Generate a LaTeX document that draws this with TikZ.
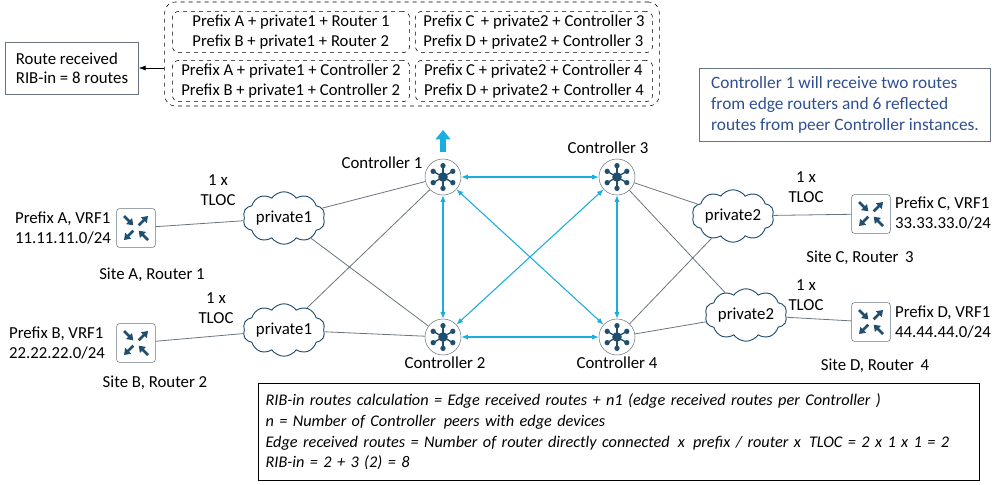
\documentclass[tikz,border=0pt]{standalone}
\usepackage{fontspec}
\setmainfont{Carlito}
\usetikzlibrary{shapes.symbols,arrows.meta,calc}
\definecolor{dk}{HTML}{1F4E6E}
\definecolor{lb}{HTML}{1AADE0}
\definecolor{gl}{HTML}{6A7480}
\definecolor{tb}{HTML}{2F4F8F}
\tikzset{
  x=0.75pt,y=-0.75pt,
  every node/.style={font=\fontsize{12.6}{14.5}\selectfont,align=center,inner sep=1pt},
  ctl/.style={circle,draw=gl,fill=white,minimum size=27pt,inner sep=0pt},
  rtr/.style={rectangle,rounded corners=2pt,draw=gl,fill=white,minimum size=29pt,inner sep=0pt},
  cld/.style={cloud,cloud puffs=10,cloud puff arc=110,aspect=1.9,draw=dk,fill=white,line width=0.7pt,inner sep=0pt,minimum width=60pt,minimum height=31pt},
  lnk/.style={draw=gl,line width=0.6pt},
  blu/.style={draw=lb,line width=0.8pt,{Latex[length=5pt,width=4pt]}-{Latex[length=5pt,width=4pt]}},
  ibox/.style={draw,dashed,rounded corners=5pt,minimum width=178pt,minimum height=31pt,align=left,font=\fontsize{12.5}{14.5}\selectfont}
}
\newcommand{\hubicon}[1]{%
  \foreach \a in {30,90,150,210,270,330}{\draw[dk,line width=1pt] (#1.center) -- ($(#1.center)+(\a:8.5pt)$); \fill[dk] ($(#1.center)+(\a:8.5pt)$) circle (2pt);}
  \fill[dk] (#1.center) circle (3.6pt);}
\newcommand{\rtricon}[1]{%
  \draw[dk,line width=2pt,-{Triangle[length=4.5pt,width=6pt]}] ($(#1.center)+(-9pt,9pt)$) -- ($(#1.center)+(-2pt,2pt)$);
  \draw[dk,line width=2pt,-{Triangle[length=4.5pt,width=6pt]}] ($(#1.center)+(9pt,-9pt)$) -- ($(#1.center)+(2pt,-2pt)$);
  \draw[dk,line width=2pt,-{Triangle[length=4.5pt,width=6pt]}] ($(#1.center)+(2pt,2pt)$) -- ($(#1.center)+(9pt,9pt)$);
  \draw[dk,line width=2pt,-{Triangle[length=4.5pt,width=6pt]}] ($(#1.center)+(-2pt,-2pt)$) -- ($(#1.center)+(-9pt,-9pt)$);}
\begin{document}
\begin{tikzpicture}
\useasboundingbox (0,0) rectangle (1008,485);
% top box
\node[draw=black,dashed,rounded corners=8pt,minimum width=371pt,minimum height=78pt,inner sep=0pt] (top) at (412,54) {};
\node[ibox] (b1) at (291,32) {Prefix A + private1 + Router 1\\Prefix B + private1 + Router 2};
\node[ibox] (b2) at (534,32) {Prefix C \,+ private2 + Controller 3\\Prefix D + private2 + Controller 3};
\node[ibox] (b3) at (291,81) {Prefix A + private1 + Controller 2\\Prefix B + private1 + Controller 2};
\node[ibox] (b4) at (534,81) {Prefix C + private2 + Controller 4\\Prefix D + private2 + Controller 4};
\node[draw=gl,minimum width=100pt,minimum height=39pt,align=left] (rr) at (72,68) {Route received\\RIB-in = 8 routes};
\draw[-{Latex[length=5pt]}] (top.west|-rr) -- (rr.east);
\node[draw=gl,text=tb,align=left,minimum width=218pt,minimum height=55pt,inner sep=5pt,font=\fontsize{13}{16}\selectfont] (note) at (845,105) {Controller 1 will receive two routes\\from edge routers and 6 reflected\\routes from peer Controller instances.};
% controllers
\node[ctl] (c1) at (443,177) {};
\node[ctl] (c2) at (443,337) {};
\node[ctl] (c3) at (617,177) {};
\node[ctl] (c4) at (617,337) {};
\coordinate (up) at (443,130);
\draw[lb,line width=4pt,-{Triangle[length=7pt,width=11pt]}] (443,152) -- (up);
\node (l1) at (382,163) {Controller 1};
\node (l2) at (445,363) {Controller 2};
\node (l3) at (608,148) {Controller 3};
\node (l4) at (617,363) {Controller 4};
% clouds
\node[cld] (p1) at (284,218) {private1};
\node[cld] (p2) at (284,330) {private1};
\node[cld] (p3) at (733,216) {private2};
\node[cld] (p4) at (746,315) {private2};
% routers
\node[rtr] (ra) at (136,228) {};
\node[rtr] (rb) at (136,343) {};
\node[rtr] (rc) at (871,214) {};
\node[rtr] (rd) at (871,322) {};
% links
\draw[lnk] (ra) -- (p1); \draw[lnk] (rb) -- (p2);
\draw[lnk] (rc) -- (p3); \draw[lnk] (rd) -- (p4);
\draw[lnk] (p1) -- (c1); \draw[lnk] (p1) -- (c2);
\draw[lnk] (p2) -- (c1); \draw[lnk] (p2) -- (c2);
\draw[lnk] (p3) -- (c3); \draw[lnk] (p3) -- (c4);
\draw[lnk] (p4) -- (c3); \draw[lnk] (p4) -- (c4);
\draw[blu] (c1) -- (c3); \draw[blu] (c1) -- (c2); \draw[blu] (c1) -- (c4);
\draw[blu] (c3) -- (c2); \draw[blu] (c3) -- (c4); \draw[blu] (c2) -- (c4);
\foreach \c in {c1,c2,c3,c4}{\hubicon{\c}}
\foreach \r in {ra,rb,rc,rd}{\rtricon{\r}}
% labels
\node (ta) at (218,190) {1 x\\TLOC};
\node (tb) at (216,308) {1 x\\TLOC};
\node (tc) at (806,187) {1 x\\TLOC};
\node (td) at (806,295) {1 x\\TLOC};
\node[align=left] (pa) at (63,228) {Prefix A, VRF1\\11.11.11.0/24};
\node[align=left] (pb) at (57,343) {Prefix B, VRF1\\22.22.22.0/24};
\node[align=left] (pc) at (943,213) {Prefix C, VRF1\\33.33.33.0/24};
\node[align=left] (pd) at (943,322) {Prefix D, VRF1\\44.44.44.0/24};
\node (sa) at (152,275) {Site A, Router 1};
\node (sb) at (155,383) {Site B, Router 2};
\node (sc) at (860,258) {Site C, Router \,3};
\node (sd) at (875,366) {Site D, Router \,4};
\node[draw=black,align=left,anchor=north west,minimum width=541pt,minimum height=73pt,text width=530pt,inner sep=5pt,font=\itshape\fontsize{12.2}{15.5}\selectfont] (calc) at (258,383) {RIB-in routes calculation = Edge received routes + n1 (edge received routes per Controller )\\n = Number of Controller \,peers with edge devices\\Edge received routes = Number of router directly connected \,x \,prefix / router x \,TLOC = 2 x 1 x 1 = 2\\RIB-in = 2 + 3 (2) = 8};
\end{tikzpicture}
\end{document}
